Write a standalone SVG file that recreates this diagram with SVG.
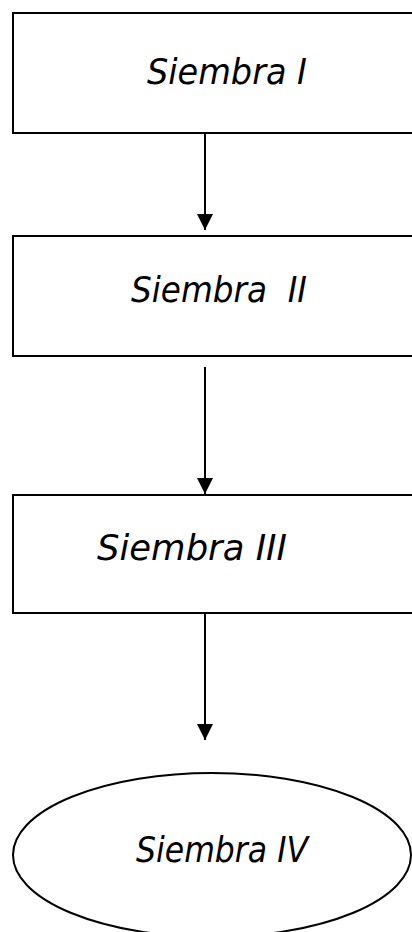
<svg xmlns="http://www.w3.org/2000/svg" width="412" height="932" viewBox="0 0 412 932">
  <style>
    .box { fill: #ffffff; stroke: #000000; stroke-width: 2; }
    .lbl { font-family: "DejaVu Sans", Verdana, sans-serif; font-style: italic; font-size: 35px; fill: #000000; white-space: pre; }
    .edge { stroke: #000000; stroke-width: 2; fill: none; marker-end: url(#head); }
  </style>
  <defs>
    <marker id="head" viewBox="0 0 16 16" refX="16" refY="8" markerWidth="16" markerHeight="16" markerUnits="userSpaceOnUse" orient="auto">
      <path d="M0,0 L16,8 L0,16 Z" fill="#000000"/>
    </marker>
  </defs>
  <rect width="412" height="932" fill="#ffffff"/>

  <!-- connectors -->
  <g id="connectors">
    <line class="edge" x1="205" y1="133" x2="205" y2="230"/>
    <line class="edge" x1="205" y1="367" x2="205" y2="494"/>
    <line class="edge" x1="205" y1="613" x2="205" y2="740"/>
  </g>

  <g id="siembra-1">
    <rect class="box" x="13" y="13" width="410" height="120"/>
    <text class="lbl" x="147" y="84" textLength="160" lengthAdjust="spacingAndGlyphs">Siembra I</text>
  </g>

  <g id="siembra-2">
    <rect class="box" x="13" y="236" width="410" height="120"/>
    <text class="lbl" x="131" y="302" textLength="176" lengthAdjust="spacingAndGlyphs" xml:space="preserve">Siembra  II</text>
  </g>

  <g id="siembra-3">
    <rect class="box" x="13" y="495" width="410" height="118"/>
    <text class="lbl" x="97" y="560" textLength="190" lengthAdjust="spacingAndGlyphs">Siembra III</text>
  </g>

  <g id="siembra-4">
    <ellipse class="box" cx="212" cy="855" rx="199" ry="82"/>
    <text class="lbl" x="136" y="862" textLength="172" lengthAdjust="spacingAndGlyphs">Siembra IV</text>
  </g>
</svg>
